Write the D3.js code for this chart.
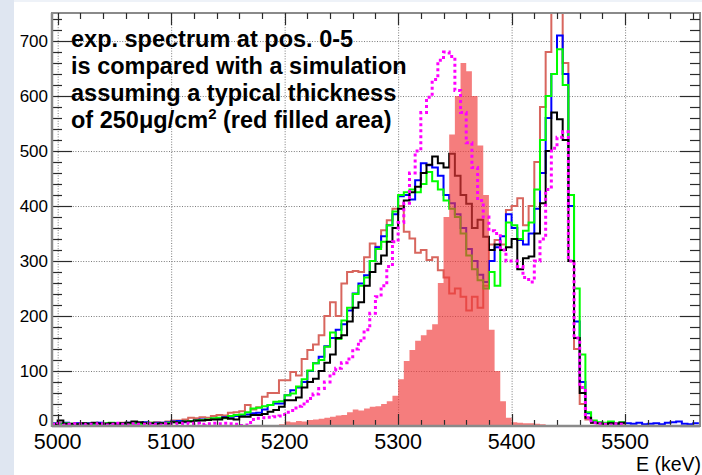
<!DOCTYPE html>
<html>
<head>
<meta charset="utf-8">
<script src="https://cdn.jsdelivr.net/npm/d3@7/dist/d3.min.js"></script>
<style>
  body { margin: 0; background: #fff; }
  svg { display: block; }
</style>
</head>
<body>
<svg id="chart" width="702" height="475"></svg>
<script>
// histogram bins: 5 keV wide, first bin starts at 4995 keV
var binLow = 4995;
var binWidth = 5;

// exp. spectra (counts per bin)
var countsRed = [4,5,4,3,5,4,4,5,3,4,5,4,6,5,4,5,6,
    6,7,6,8,10,10, 12,15,14,16,15, 18,20,19, 24,25,27,
    38,30,34,53,60,60,83, 83,98,92,122,138,148,165,200,
    225,200,259,280,282,280,307,332, 326,356,374,395,400,353,341,315,
    320,302,307,283,270,241,250,235, 210,235,215,255,330,338,330,393,
    400,414,365,400,480,580,680,800, 800,660,400,140,40,12,6,5, 4,6,5,4];
var countsBlue = [5,4,6,3,5,4,5,3,6,4,5,5,4,6,5,5,7,5,6,6,7,
    8,9,7,9,10,12,11,13,14,16, 17,18,20,21,23,24,30,38,41,41,
    56,65,70,80,100,114,126,145,160,175, 185,210,241,259,274,300,325,345,365,385,
    418,420,412,447,478,474,470,455,420,405, 385,360,322,300,275,262,300,325,345,385,
    360,338,330,350,395,460,560,640,710,640, 400,190,80,23,8,6,5,7,4,6,
    5,4,6,3,4,5,3,6,7,8,4,3,5];
var countsGreen = [4,3,5,4,3,5,4,4,3,5,6,4,5,4,6,4,5,6,4,5,6,
    7,6,8,9,10,11,12,14,15,14, 18,20,21,25,32,33,36,38,44,45,
    56,59,72,85,101,114,120,144,170,158, 192,215,240,255,270,300,322,335,365,390,
    420,425,430,425,440,462,445,430,410,395, 380,350,310,285,265,250,280,255,320,370,
    365,340,355,370,430,520,600,640,685,620, 420,250,130,25,10,7,6,8,5,7];
var countsBlack = [3,10,4,4,3,5,4,6,4,4,5,4,5,6,8,7,5,5,4,5,4,
    7,6,8,8,10,10,11,12,12,15, 13,12,17,17,20,20,22,26,29,35,
    47,47,52,70,80,86,100,115,130,160, 165,190,215,225,255,280,295,310,335,360,
    395,410,425,435,460,475,490,478,470,495, 455,420,404,360,375,344,320,330,320,325,
    340,285,305,308,350,405,500,570,558,520, 300,160,60,15,6,5,3,5,4,6];
var countsMagenta = [3,4,2,3,4,2,3,3,4,2,3,5,3,2,4,3,3,4,3,2,4,
    3,4,5,4,5,3,4,5,4,5, 4,3,1,2,12,14,15,16,17,18,
    25,28,36,40,50,58,68,80,95,105, 115,122,140,155,175,205,235,255,290,335,
    370,405,460,500,570,598,630,665,680,672, 610,570,515,470,410,380,355,350,320,300,
    300,290,270,262,300,340,430,505,525,535, 300,160,70,15,6,4,3,2,4,3];

// simulation, 250 ug/cm2 (red filled area)
var countsSim = [0,0,0,0,0,0,0,0,0,0,0,0,0,0,0,0,0,0,0,0,
    0,0,0,0,0,0,0,0,0,0,0,0,0,0,0,0,0,0,0,0,
    3, 8,7,9,8,11,12,13,15,17,19, 20,25,30,28,32,35,36,40,45,55,
    85,118,138,155,165,175,185,260,380,530, 600,660,645,600,510,420,175,100,45,15,
    7,6,5,5,4,3,1];

var xTicks = [5000, 5100, 5200, 5300, 5400, 5500];
var yTicks = [0, 100, 200, 300, 400, 500, 600, 700];
var noteLines = ["exp. spectrum at pos. 0-5",
    "is compared with a simulation",
    "assuming a typical thickness"];
var xTitle = "E (keV)";

var svg = d3.select("#chart");
var font = "'Liberation Sans', Arial, Helvetica, sans-serif";

var x = d3.scaleLinear().domain([4995, 5566]).range([52, 700]);
var y = d3.scaleLinear().domain([0, 751]).range([426, 13]);

// page background strip on the left
svg.append("rect").attr("x", 0).attr("y", 0).attr("width", 702).attr("height", 475).attr("fill", "#fff");
svg.append("rect").attr("x", 0).attr("y", 0).attr("width", 14).attr("height", 475).attr("fill", "#dfe6f1");
svg.append("rect").attr("x", 14).attr("y", 0).attr("width", 688).attr("height", 2).attr("fill", "#eef2f8");

svg.append("defs").append("clipPath").attr("id", "plotArea")
    .append("rect")
    .attr("x", x.range()[0]).attr("y", y.range()[1])
    .attr("width", x.range()[1] - x.range()[0])
    .attr("height", y.range()[0] - y.range()[1]);

// grid
var grid = svg.append("g").attr("stroke", "#7a7a7a").attr("stroke-width", 1).attr("stroke-dasharray", "1,1.6");
grid.selectAll(".gx").data(xTicks).enter().append("line")
    .attr("x1", function (d) { return x(d) + 0.5; })
    .attr("x2", function (d) { return x(d) + 0.5; })
    .attr("y1", y.range()[0]).attr("y2", y.range()[1]);
grid.selectAll(".gy").data(yTicks.slice(1)).enter().append("line")
    .attr("y1", function (d) { return y(d) + 0.5; })
    .attr("y2", function (d) { return y(d) + 0.5; })
    .attr("x1", x.range()[0]).attr("x2", x.range()[1]);

function histPoints(counts) {
    var pts = counts.map(function (c, i) { return [binLow + i * binWidth, c]; });
    pts.push([binLow + counts.length * binWidth, counts[counts.length - 1]]);
    return pts;
}

var stepLine = d3.line()
    .x(function (d) { return x(d[0]); })
    .y(function (d) { return y(d[1]); })
    .curve(d3.curveStepAfter);

var stepArea = d3.area()
    .x(function (d) { return x(d[0]); })
    .y0(y(0))
    .y1(function (d) { return y(d[1]); })
    .curve(d3.curveStepAfter);

var plot = svg.append("g").attr("clip-path", "url(#plotArea)");

function drawHist(counts, color, width, dash) {
    var path = plot.append("path")
        .datum(histPoints(counts))
        .attr("fill", "none")
        .attr("stroke", color)
        .attr("stroke-width", width)
        .attr("stroke-linejoin", "miter")
        .attr("d", stepLine);
    if (dash) path.attr("stroke-dasharray", dash);
    return path;
}

drawHist(countsRed, "#d8665e", 2);
drawHist(countsBlue, "#0000ff", 2);
drawHist(countsGreen, "#00ff00", 2);
drawHist(countsBlack, "#000000", 2);

plot.append("path")
    .datum(histPoints(countsSim))
    .attr("fill", "#f03a3a")
    .attr("fill-opacity", 0.66)
    .attr("stroke", "none")
    .attr("d", stepArea);

drawHist(countsMagenta, "#ff00ff", 3, "3,3");

// frame and ticks
var frame = svg.append("g");
frame.append("rect")
    .attr("x", x.range()[0]).attr("y", y.range()[1])
    .attr("width", x.range()[1] - x.range()[0])
    .attr("height", y.range()[0] - y.range()[1])
    .attr("fill", "none").attr("stroke", "#8a8a8a").attr("stroke-width", 2);

var xMinor = d3.range(5000, 5566, 20);
var yMinor = d3.range(0, 751, 20);

var ticks = svg.append("g").attr("stroke", "#2a2a2a").attr("stroke-width", 1.2);
xMinor.forEach(function (v) {
    var len = (v % 100 === 0) ? 12 : 6;
    var px = Math.round(x(v)) + 0.5;
    ticks.append("line").attr("x1", px).attr("x2", px).attr("y1", y.range()[0]).attr("y2", y.range()[0] - len);
    ticks.append("line").attr("x1", px).attr("x2", px).attr("y1", y.range()[1]).attr("y2", y.range()[1] + len);
});
yMinor.forEach(function (v) {
    var len = (v % 100 === 0) ? 20 : 10;
    var py = Math.round(y(v)) + 0.5;
    ticks.append("line").attr("y1", py).attr("y2", py).attr("x1", x.range()[0]).attr("x2", x.range()[0] + len);
    ticks.append("line").attr("y1", py).attr("y2", py).attr("x1", x.range()[1]).attr("x2", x.range()[1] - len);
});

// thicker grey axis lines (left and bottom)
svg.append("line").attr("x1", x.range()[0]).attr("x2", x.range()[0])
    .attr("y1", y.range()[1]).attr("y2", y.range()[0] + 1)
    .attr("stroke", "#8a8a8a").attr("stroke-width", 2.5);
svg.append("line").attr("x1", x.range()[0]).attr("x2", x.range()[1])
    .attr("y1", y.range()[0]).attr("y2", y.range()[0])
    .attr("stroke", "#8a8a8a").attr("stroke-width", 2.5);

// tick labels
svg.append("g").selectAll("text").data(xTicks).enter().append("text")
    .attr("x", function (d) { return x(d); })
    .attr("y", 449)
    .attr("text-anchor", "middle")
    .attr("font-family", font).attr("font-size", 21.5).attr("fill", "#000")
    .text(function (d) { return d; });

svg.append("g").selectAll("text").data(yTicks).enter().append("text")
    .attr("x", 48)
    .attr("y", function (d) { return y(d) + (d === 0 ? 0 : 6); })
    .attr("text-anchor", "end")
    .attr("font-family", font).attr("font-size", 17).attr("fill", "#000")
    .text(function (d) { return d; });

svg.append("text")
    .attr("x", 701).attr("y", 470.5)
    .attr("text-anchor", "end")
    .attr("font-family", font).attr("font-size", 19.5).attr("fill", "#000")
    .text(xTitle);

// annotation
var note = svg.append("g")
    .attr("font-family", font).attr("font-size", 23.5).attr("font-weight", "bold").attr("fill", "#000");
noteLines.forEach(function (s, i) {
    note.append("text").attr("x", 71).attr("y", 47 + i * 27).text(s);
});
var last = note.append("text").attr("x", 71).attr("y", 47 + 3 * 27);
last.append("tspan").text("of 250\u03bcg/cm");
last.append("tspan").attr("font-size", 15).attr("dy", -9).text("2");
last.append("tspan").attr("dy", 9).text(" (red filled area)");
</script>
</body>
</html>
